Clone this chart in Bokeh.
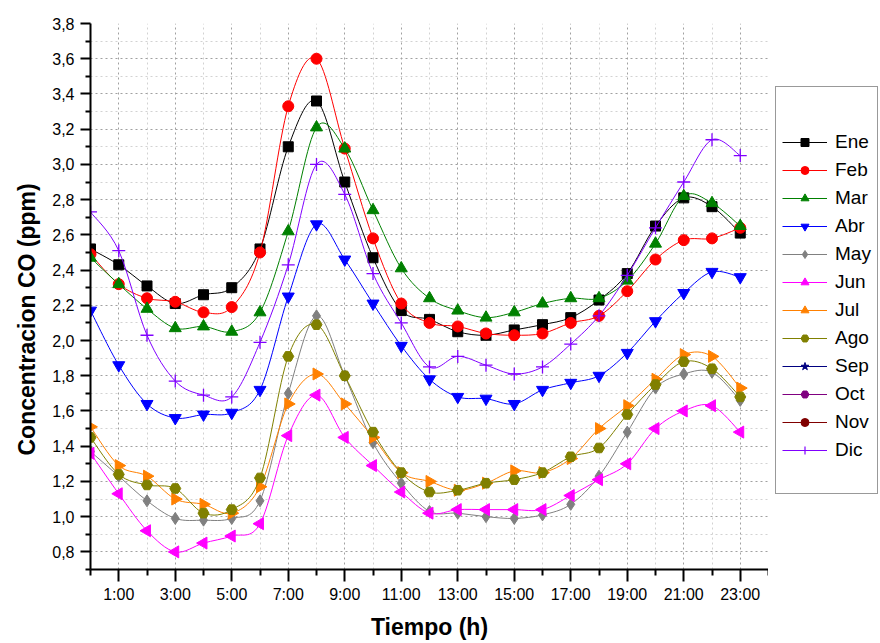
import math
from bokeh.plotting import figure
from bokeh.layouts import row
from bokeh.models import Range1d, FixedTicker, Legend, LegendItem, ColumnDataSource, Title
from bokeh.embed import file_html
from bokeh.resources import INLINE

# ---------------- data ----------------
hours = [0, 1, 2, 3, 4, 5, 6, 7, 8, 9, 10, 11, 12, 13, 14, 15, 16, 17, 18, 19, 20, 21, 22, 23]

ene = [2.52, 2.43, 2.31, 2.21, 2.26, 2.30, 2.52, 3.10, 3.36, 2.90, 2.47, 2.17,
       2.12, 2.05, 2.03, 2.06, 2.09, 2.13, 2.23, 2.38, 2.65, 2.81, 2.76, 2.61]
feb = [2.49, 2.32, 2.24, 2.22, 2.16, 2.19, 2.50, 3.33, 3.60, 3.09, 2.58, 2.21,
       2.10, 2.08, 2.04, 2.03, 2.04, 2.10, 2.14, 2.28, 2.46, 2.57, 2.58, 2.64]
mar = [2.47, 2.32, 2.18, 2.07, 2.08, 2.05, 2.16, 2.62, 3.21, 3.09, 2.74, 2.41,
       2.24, 2.17, 2.13, 2.16, 2.21, 2.24, 2.24, 2.34, 2.55, 2.82, 2.78, 2.65]
abr = [2.17, 1.86, 1.64, 1.56, 1.58, 1.59, 1.72, 2.25, 2.66, 2.46, 2.21, 1.97,
       1.78, 1.68, 1.67, 1.64, 1.72, 1.76, 1.80, 1.93, 2.11, 2.27, 2.39, 2.36]
may = [1.37, 1.23, 1.09, 0.99, 0.98, 0.99, 1.09, 1.70, 2.14, 1.80, 1.42, 1.19,
       1.03, 1.02, 1.00, 0.99, 1.01, 1.07, 1.23, 1.48, 1.73, 1.81, 1.82, 1.66]
jun = [1.36, 1.13, 0.92, 0.80, 0.85, 0.89, 0.96, 1.46, 1.69, 1.45, 1.29, 1.14,
       1.02, 1.04, 1.04, 1.04, 1.04, 1.12, 1.21, 1.30, 1.50, 1.60, 1.63, 1.48]
jul = [1.51, 1.29, 1.23, 1.10, 1.07, 1.02, 1.17, 1.64, 1.81, 1.64, 1.45, 1.25,
       1.20, 1.15, 1.19, 1.26, 1.25, 1.33, 1.50, 1.63, 1.78, 1.92, 1.91, 1.73]
ago = [1.45, 1.24, 1.18, 1.16, 1.02, 1.04, 1.22, 1.91, 2.09, 1.80, 1.48, 1.25,
       1.14, 1.15, 1.19, 1.21, 1.25, 1.34, 1.39, 1.58, 1.75, 1.88, 1.84, 1.68]
sep = []   # listed in the legend, no values drawn
oct_ = []
nov = []
dic = [2.73, 2.51, 2.03, 1.77, 1.69, 1.68, 1.99, 2.43, 3.00, 2.83, 2.38, 2.10,
       1.85, 1.91, 1.86, 1.81, 1.85, 1.98, 2.14, 2.37, 2.64, 2.90, 3.14, 3.05]

month_names = ["Ene", "Feb", "Mar", "Abr", "May", "Jun", "Jul", "Ago", "Sep", "Oct", "Nov", "Dic"]
month_values = [ene, feb, mar, abr, may, jun, jul, ago, sep, oct_, nov, dic]

x_tick_values = [1, 3, 5, 7, 9, 11, 13, 15, 17, 19, 21, 23]
x_tick_labels = ["1:00", "3:00", "5:00", "7:00", "9:00", "11:00", "13:00",
                 "15:00", "17:00", "19:00", "21:00", "23:00"]
x_minor_values = [0, 2, 4, 6, 8, 10, 12, 14, 16, 18, 20, 22, 24]
y_tick_values = [0.8, 1.0, 1.2, 1.4, 1.6, 1.8, 2.0, 2.2, 2.4, 2.6, 2.8, 3.0, 3.2, 3.4, 3.6, 3.8]
y_tick_labels = ["0,8", "1,0", "1,2", "1,4", "1,6", "1,8", "2,0", "2,2", "2,4", "2,6",
                 "2,8", "3,0", "3,2", "3,4", "3,6", "3,8"]
y_minor_values = [0.7, 0.9, 1.1, 1.3, 1.5, 1.7, 1.9, 2.1, 2.3, 2.5, 2.7, 2.9, 3.1, 3.3, 3.5, 3.7]

# ---------------- styles ----------------
colors = ["#000000", "#FF0000", "#008000", "#0000FF", "#808080", "#FF00FF",
          "#FF8000", "#808000", "#000080", "#800080", "#800000", "#8000FF"]
markers = ["square", "circle", "triangle", "inverted_triangle", "diamond", "triangle",
           "triangle", "hex", "star", "hex", "circle", "cross"]
angles = [0, 0, 0, 0, 0, math.pi / 2, -math.pi / 2, 0, 0, 0, 0, 0]
sizes = [10, 11, 12, 12, 12, 12, 12, 11, 12, 11, 10, 13]
legend_sizes = [8, 9, 10, 10, 10, 10, 10, 9, 10, 9, 9, 11]

FONT = "Liberation Sans"

p = figure(width=768, height=643, output_backend="svg", toolbar_location=None,
           x_range=Range1d(0, 24), y_range=Range1d(0.7, 3.8),
           min_border_left=90, min_border_right=0, min_border_top=23, min_border_bottom=74)
p.outline_line_color = None
p.background_fill_color = "white"
p.border_fill_color = "white"

# axes
p.xaxis.ticker = FixedTicker(ticks=x_tick_values, minor_ticks=x_minor_values)
p.xaxis.major_label_overrides = {v: l for v, l in zip(x_tick_values, x_tick_labels)}
p.yaxis.ticker = FixedTicker(ticks=y_tick_values, minor_ticks=y_minor_values)
p.yaxis.major_label_overrides = {v: l for v, l in zip(y_tick_values, y_tick_labels)}
for ax in (p.xaxis, p.yaxis):
    ax.axis_line_width = 2
    ax.axis_line_color = "black"
    ax.major_tick_line_width = 2
    ax.minor_tick_line_width = 2
    ax.major_tick_line_color = "black"
    ax.minor_tick_line_color = "black"
    ax.major_tick_in = 0
    ax.minor_tick_in = 0
    ax.major_label_text_font = FONT
    ax.major_label_text_font_size = "16px"
    ax.major_label_text_color = "black"
p.xaxis.major_tick_out = 12
p.xaxis.minor_tick_out = 6
p.xaxis.major_label_standoff = 4
p.xaxis.axis_label = "Tiempo (h)"
p.xaxis.axis_label_text_font = FONT
p.xaxis.axis_label_text_font_size = "23px"
p.xaxis.axis_label_text_font_style = "bold"
p.xaxis.axis_label_text_color = "black"
p.xaxis.axis_label_standoff = 8
p.yaxis.major_tick_out = 10
p.yaxis.minor_tick_out = 5
p.yaxis.major_label_standoff = 6

# y title on the left, placed lower than the frame centre as in the reference
p.add_layout(Title(text="Concentracion CO (ppm)", align="left", offset=114,
                   text_font=FONT, text_font_size="23px", text_font_style="bold",
                   text_color="black", standoff=20), "left")

# grids
for g in (p.xgrid, p.ygrid):
    g.grid_line_color = "#a0a0a0"
    g.grid_line_dash = "2 3"
    g.grid_line_width = 1
    g.minor_grid_line_color = "#d2d2d2"
    g.minor_grid_line_dash = "2 3"
    g.minor_grid_line_width = 1


def bezier_parts(xs, ys):
    n = len(xs)
    out = dict(x0=[], y0=[], x1=[], y1=[], cx0=[], cy0=[], cx1=[], cy1=[])
    for i in range(n - 1):
        xa, ya = (xs[i - 1], ys[i - 1]) if i > 0 else (xs[i], ys[i])
        xb, yb = (xs[i + 2], ys[i + 2]) if i + 2 < n else (xs[i + 1], ys[i + 1])
        out["x0"].append(xs[i]); out["y0"].append(ys[i])
        out["x1"].append(xs[i + 1]); out["y1"].append(ys[i + 1])
        out["cx0"].append(xs[i] + (xs[i + 1] - xa) / 6.0)
        out["cy0"].append(ys[i] + (ys[i + 1] - ya) / 6.0)
        out["cx1"].append(xs[i + 1] - (xb - xs[i]) / 6.0)
        out["cy1"].append(ys[i + 1] - (yb - ys[i]) / 6.0)
    return out


for name, vals, col, mk, ang, sz in zip(month_names, month_values, colors, markers, angles, sizes):
    xs = hours[:len(vals)]
    if len(vals) > 1:
        p.bezier(source=ColumnDataSource(bezier_parts(xs, vals)), x0="x0", y0="y0", x1="x1", y1="y1",
                 cx0="cx0", cy0="cy0", cx1="cx1", cy1="cy1", line_color=col, line_width=1)
    if len(vals) > 0:
        p.scatter(xs, vals, marker=mk, angle=ang, size=sz, fill_color=col, line_color=col,
                  line_width=1.3 if mk == "cross" else 1)

# ---------------- legend panel (separate narrow figure at the right) ----------------
pl = figure(width=112, height=643, output_backend="svg", toolbar_location=None,
            x_range=Range1d(0, 1), y_range=Range1d(0, 1), x_axis_type=None, y_axis_type=None,
            min_border=0)
pl.outline_line_color = None
pl.grid.visible = False
pl.background_fill_color = "white"
pl.border_fill_color = "white"

NAN = float("nan")
items = []
for name, col, mk, ang, sz in zip(month_names, colors, markers, angles, legend_sizes):
    ln = pl.line([NAN], [NAN], line_color=col, line_width=1)
    sc = pl.scatter([NAN], [NAN], marker=mk, angle=ang, size=sz, fill_color=col, line_color=col,
                    line_width=1.2 if mk == "cross" else 1)
    items.append(LegendItem(label=name, renderers=[ln, sc]))
blank = pl.scatter([NAN], [NAN], alpha=0)
items.append(LegendItem(label=" ", renderers=[blank]))

# the legend frame is aligned with the main plot frame (bottom edge at the 0,7 line)
legend = Legend(items=items, location=(7, 75), orientation="vertical",
                title=" ", title_text_font_size="19px", title_standoff=16,
                label_text_font=FONT, label_text_font_size="19px", label_text_color="black",
                glyph_width=45, glyph_height=20, label_height=20, label_standoff=8,
                spacing=6, padding=6, margin=0,
                border_line_color="#333333", border_line_width=1,
                background_fill_color="white", background_fill_alpha=1)
pl.add_layout(legend, "center")

layout = row(p, pl, spacing=0)
open("out.html", "w").write(file_html(layout, INLINE))
